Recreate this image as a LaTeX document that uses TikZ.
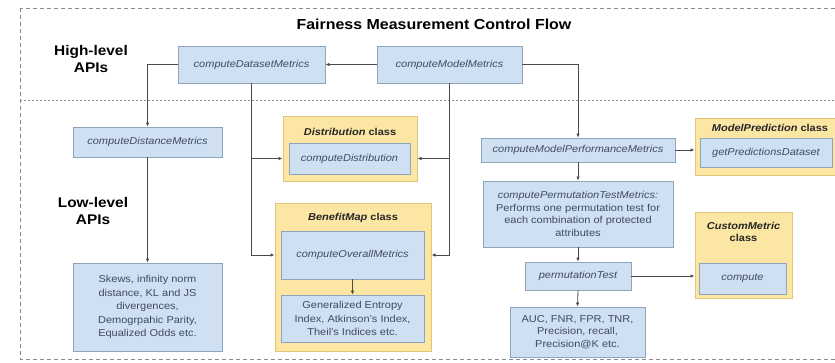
\documentclass[tikz,border=0pt]{standalone}
\usepackage{fontspec}
\setmainfont[FakeStretch=1.1]{Liberation Sans}
\usetikzlibrary{arrows.meta,calc}

\definecolor{boxblue}{HTML}{CFE0F2}
\definecolor{boxblueline}{HTML}{8FA4BF}
\definecolor{boxtext}{HTML}{3F4B63}
\definecolor{classfill}{HTML}{FCE6A3}
\definecolor{classline}{HTML}{E3C675}
\definecolor{wire}{HTML}{4A4A4A}
\definecolor{frameline}{HTML}{8A8A8A}

\tikzset{
  fn/.style={draw=boxblueline, fill=boxblue, line width=0.8pt, text=boxtext,
    font=\fontsize{10}{12}\selectfont\itshape, inner sep=0pt, align=center},
  plainbox/.style={fn, font=\fontsize{10}{13.5}\selectfont},
  classbox/.style={draw=classline, fill=classfill, line width=1pt, inner sep=0pt},
  classtitle/.style={font=\fontsize{10}{12.5}\selectfont\bfseries, text=black!85, align=center, inner sep=0pt},
  level/.style={font=\fontsize{14}{17}\selectfont\bfseries, align=center, inner sep=0pt},
  wirearrow/.style={draw=wire, line width=0.8pt, -{Latex[length=4pt,width=3.5pt]}},
  outerframe/.style={draw=frameline, line width=0.8pt, dash pattern=on 4pt off 3pt},
  divider/.style={draw=frameline, line width=0.8pt, dash pattern=on 2pt off 2pt},
}

\begin{document}
\begin{tikzpicture}[x=1pt,y=-1pt]
\useasboundingbox (0,0) rectangle (835,362);
\clip (0,0) rectangle (835,362);

% frame and level divider
\draw[outerframe] (20,8) rectangle (850,359);
\draw[divider] (20,100) -- (835,100);

\node[font=\fontsize{14.5}{17}\selectfont\bfseries, inner sep=0pt] (title) at (434,24) {Fairness Measurement Control Flow};
\node[level] (high) at (91,59) {High-level\\APIs};
\node[level] (low) at (93,211) {Low-level\\APIs};

% high-level APIs
\node[fn, minimum width=147pt, minimum height=37pt] (dm) at (251.5,64.5) {computeDatasetMetrics};
\node[fn, minimum width=145pt, minimum height=37pt] (mm) at (449.5,64.5) {computeModelMetrics};

% distance metrics
\node[fn, minimum width=149pt, minimum height=30pt] (distm) at (147.5,142) {computeDistanceMetrics};
\node[plainbox, minimum width=149pt, minimum height=88pt] (skews) at (147.5,307)
  {Skews, infinity norm\\distance, KL and JS\\divergences,\\Demogrpahic Parity,\\Equalized Odds etc.};

% Distribution class
\node[classbox, minimum width=134pt, minimum height=65pt] (distcls) at (350,148.5) {};
\node[classtitle] (disttitle) at (350,132) {\textit{Distribution} class};
\node[fn, minimum width=121pt, minimum height=31pt] (dist) at (349.5,158.5) {computeDistribution};

% BenefitMap class
\node[classbox, minimum width=156pt, minimum height=148pt] (benefit) at (353,277) {};
\node[classtitle] (benefittitle) at (353,218) {\textit{BenefitMap} class};
\node[fn, minimum width=143pt, minimum height=48pt] (overall) at (352.5,255) {computeOverallMetrics};
\node[plainbox, minimum width=143pt, minimum height=47pt] (gen) at (352.5,318.5)
  {Generalized Entropy\\Index, Atkinson's Index,\\Theil's Indices etc.};

% model performance chain
\node[fn, minimum width=194pt, minimum height=24pt] (mpm) at (578,150) {computeModelPerformanceMetrics};
\node[plainbox, minimum width=190pt, minimum height=66pt, font=\fontsize{10}{12.5}\selectfont] (ptm) at (578,214)
  {\textit{computePermutationTestMetrics:}\\Performs one permutation test for\\each combination of protected\\attributes};
\node[fn, minimum width=106pt, minimum height=28pt] (pt) at (578,276) {permutationTest};
\node[plainbox, minimum width=135pt, minimum height=50pt, font=\fontsize{10}{12.5}\selectfont] (auc) at (577.5,332)
  {AUC, FNR, FPR, TNR,\\Precision, recall,\\Precision@K etc.};

% ModelPrediction class
\node[classbox, minimum width=145pt, minimum height=57pt] (mpcls) at (767.5,146.5) {};
\node[classtitle] (mptitle) at (770,128) {\textit{ModelPrediction} class};
\node[fn, minimum width=132pt, minimum height=29pt] (gpd) at (766,152.5) {getPredictionsDataset};

% CustomMetric class
\node[classbox, minimum width=97pt, minimum height=86pt] (cmcls) at (743.5,255) {};
\node[classtitle] (cmtitle) at (743.5,232) {\textit{CustomMetric}\\class};
\node[fn, minimum width=87pt, minimum height=31pt] (cmp) at (742.5,278.5) {compute};

% connectors
\draw[wirearrow] (mm.west) -- (dm.east);
\draw[wirearrow] (dm.west) -| (distm.north);
\draw[wirearrow] (distm.south) -- (skews.north);

\draw[wirearrow] (dm.south) |- (benefit.west |- overall);
\draw[wirearrow] (dm.south |- dist) -- (distcls.west |- dist);
\draw[wirearrow] (mm.south) |- (benefit.east |- overall);
\draw[wirearrow] (mm.south |- dist) -- (distcls.east |- dist);
\draw[wirearrow] (overall.south) -- (gen.north);

\draw[wirearrow] (mm.east) -| (mpm.north);
\draw[wirearrow] (mpm.east) -- (mpcls.west |- mpm.east);
\draw[wirearrow] (mpm.south) -- (ptm.north);
\draw[wirearrow] (ptm.south) -- (pt.north);
\draw[wirearrow] (pt.south) -- (auc.north);
\draw[wirearrow] (pt.east) -- (cmcls.west |- pt.east);
\end{tikzpicture}
\end{document}
